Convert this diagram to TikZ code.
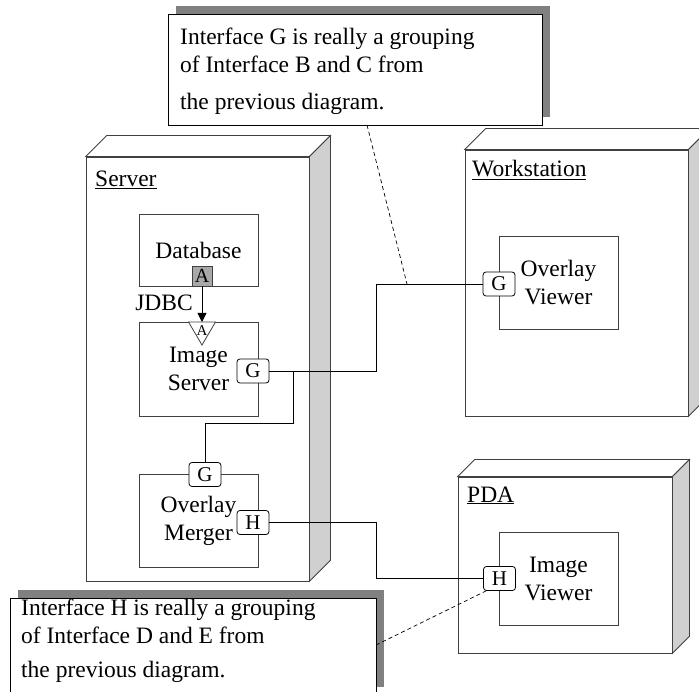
\documentclass[tikz,border=0pt]{standalone}
\usepackage{fontspec}
\setmainfont{Liberation Serif}
\usetikzlibrary{arrows.meta,calc,shadows}
\definecolor{sidegray}{HTML}{D0D0D0}
\definecolor{shadgray}{HTML}{808080}
\definecolor{portgray}{HTML}{A8A8A8}
\definecolor{edgec}{HTML}{404040}
\newcommand{\deepbox}[2]{%
  \draw[face, fill=white] (#1.north west) -- ++(#2,-#2) -- ($(#1.north east)+(#2,-#2)$) -- (#1.north east) -- cycle;
  \draw[face, fill=sidegray] (#1.north east) -- ++(#2,-#2) -- ($(#1.south east)+(#2,-#2)$) -- (#1.south east) -- cycle;}
\begin{document}
\begin{tikzpicture}[x=1pt,y=-1pt,
  txt/.style={font=\fontsize{23.5}{28}\selectfont},
  face/.style={draw=edgec, line width=0.8pt},
  box/.style={face, fill=white, inner sep=0pt, align=center, txt},
  lbl/.style={txt, anchor=base west, inner sep=0pt},
  port/.style={draw=black, line width=0.8pt, fill=white, rounded corners=3pt,
    minimum width=32pt, minimum height=24pt, inner sep=0pt, font=\fontsize{21}{21}\selectfont},
  note/.style={draw=black, line width=0.8pt, fill=white, inner sep=0pt,
    drop shadow={shadow xshift=8pt, shadow yshift=8pt, fill=shadgray, opacity=1}},
  wire/.style={draw=black, line width=0.8pt},
  anchorline/.style={draw=black, line width=0.7pt, dash pattern=on 4pt off 3pt}]
\useasboundingbox (0,0) rectangle (699,692);
\clip (0,0) rectangle (699,692);

% nodes (3D boxes)
\node[box, minimum width=223pt, minimum height=424pt] (server) at (197.5,369) {};
\deepbox{server}{21}
\node[box, minimum width=223pt, minimum height=266pt] (ws) at (576.5,283) {};
\deepbox{ws}{21}
\node[box, minimum width=214pt, minimum height=176pt] (pda) at (565,565) {};
\deepbox{pda}{17}

\node[lbl] (serverlbl) at (95,187) {\underline{Server}};
\node[lbl] (wslbl) at (472,177) {\underline{Workstation}};
\node[lbl] (pdalbl) at (467,502) {\underline{PDA}};

% components
\node[box, minimum width=119pt, minimum height=72pt] (db) at (198.5,250) {Database};
\node[box, minimum width=119pt, minimum height=94pt] (imgsrv) at (198.5,369) {Image\\Server};
\node[box, minimum width=119pt, minimum height=93pt] (merger) at (198.5,520.5) {Overlay\\Merger};
\node[box, minimum width=119pt, minimum height=93pt] (ovview) at (558.5,282.5) {Overlay\\Viewer};
\node[box, minimum width=119pt, minimum height=93pt] (imgview) at (558.5,578.5) {Image\\Viewer};

% JDBC dependency
\node[draw=edgec, line width=0.8pt, fill=portgray, minimum size=20pt, inner sep=0pt,
  font=\fontsize{20}{20}\selectfont] (pA) at (202,276) {A};
\draw[face, fill=white] (188.5,322) -- (215.5,322) -- (202,345) -- cycle;
\node[inner sep=0pt, font=\fontsize{15}{15}\selectfont] (reqAlbl) at (202,331) {A};
\coordinate (reqA) at (202,322);
\draw[wire, -{Triangle[length=9pt,width=9pt]}] (pA.south) -- (reqA);
\node[txt, anchor=base east, inner sep=0pt] (jdbc) at (193,311) {JDBC};

% ports
\node[port] (G1) at (253,371) {G};
\node[port] (G2) at (205,474.5) {G};
\node[port] (H1) at (253,522.5) {H};
\node[port] (G3) at (499,284) {G};
\node[port] (H2) at (499.5,578.5) {H};

% connectors
\coordinate (j1) at (376,0);
\coordinate (b1) at (293,423);
\draw[wire] (G1.east) -- (G1.east -| j1) |- (G3.west);
\draw[wire] (G1.east -| b1) -- (b1) -| (G2.north);
\draw[wire] (H1.east) -- (H1.east -| j1) |- (H2.west);

% notes
\node[note, minimum width=374pt, minimum height=111pt] (note1) at (355,69.5) {};
\node[lbl] (n1l1) at (180,45) {Interface G is really a grouping};
\node[lbl] (n1l2) at (180,73) {of Interface B and C from};
\node[lbl] (n1l3) at (180,110) {the previous diagram.};
\node[note, minimum width=366pt, minimum height=97pt] (note2) at (193,646.5) {};
\node[lbl] (n2l1) at (21,615) {Interface H is really a grouping};
\node[lbl] (n2l2) at (21,643) {of Interface D and E from};
\node[lbl] (n2l3) at (21,677) {the previous diagram.};

\coordinate (n1a) at (367,125);
\coordinate (d1) at (407,284);
\draw[anchorline] (n1a) -- (d1);
\coordinate (n2a) at (376,645);
\draw[anchorline] (n2a) -- ($(H2.south west)+(3,0)$);
\end{tikzpicture}
\end{document}
